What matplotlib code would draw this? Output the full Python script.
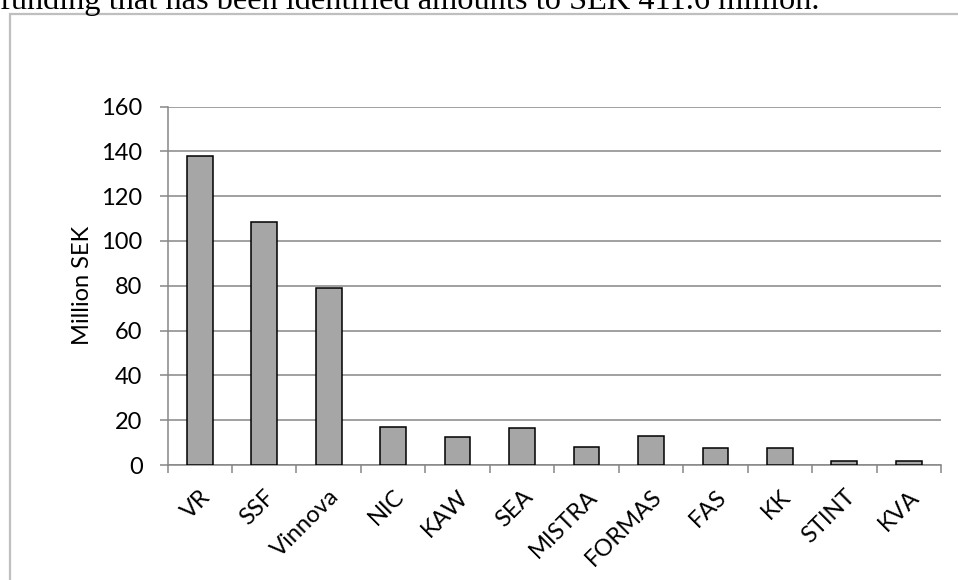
import numpy as np
import matplotlib
matplotlib.use('Agg')
import matplotlib.pyplot as plt
from matplotlib.patches import Rectangle

# research funding per financier, million SEK
funders = ['VR', 'SSF', 'Vinnova', 'NIC', 'KAW', 'SEA', 'MISTRA', 'FORMAS',
           'FAS', 'KK', 'STINT', 'KVA']
funding = [138, 108.5, 79, 16.8, 12.5, 16.3, 8, 13, 7.8, 7.7, 2, 2]
yticks = [0, 20, 40, 60, 80, 100, 120, 140, 160]

grey = '#868686'
W, H = 958, 580
fs = 17

fig = plt.figure(figsize=(W / 100, H / 100), dpi=100)

# text line above the chart frame
fig.text(0.0, 1 - 9 / H, 'funding that has been identified amounts to SEK 411.6 million.',
         family='Liberation Serif', fontsize=23.3, va='baseline', ha='left')

# chart frame (only top and left edges fall inside the page)
fig.patches.append(Rectangle((10 / W, -0.1), 1.2, 1.1 - 14 / H, transform=fig.transFigure,
                             fill=False, edgecolor='#bfbfbf', linewidth=1.6))

ax = fig.add_axes([167.5 / W, 1 - 465 / H, (941 - 167.5) / W, (465 - 106.5) / H])

x = np.arange(len(funders))
ax.bar(x, funding, width=0.4, color='#a6a6a6', edgecolor='black', linewidth=1.1, zorder=3)

ax.set_xlim(-0.5, len(funders) - 0.5)
ax.set_ylim(0, 160)
ax.set_yticks(yticks)
ax.set_yticklabels([str(v) for v in yticks], family='Lato', fontsize=fs)
ax.yaxis.grid(True, color=grey, linewidth=1.1, zorder=0)
ax.set_axisbelow(True)

ax.set_xticks(x)
ax.set_xticklabels(funders, family='Lato', fontsize=fs, rotation=45,
                   ha='right', rotation_mode='anchor')
ax.set_xticks(np.arange(len(funders) + 1) - 0.5, minor=True)
ax.tick_params(axis='x', which='major', length=0, pad=15)
ax.tick_params(axis='x', which='minor', length=6, width=1.1, color=grey, direction='out')
ax.tick_params(axis='y', length=6, width=1.1, color=grey, pad=12)

for side in ['top', 'right']:
    ax.spines[side].set_visible(False)
for side in ['left', 'bottom']:
    ax.spines[side].set_color(grey)
    ax.spines[side].set_linewidth(1.1)

ax.set_ylabel('Million SEK', family='Lato', fontsize=fs, labelpad=6)

fig.savefig('out.png', dpi=100)
